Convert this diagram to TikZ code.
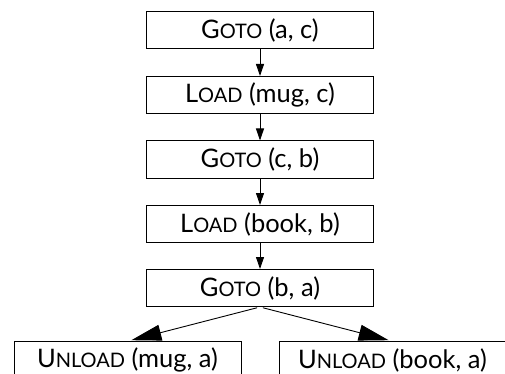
\documentclass[tikz,border=0pt]{standalone}
\usepackage{fontspec}
\setmainfont{Lato}
\usetikzlibrary{arrows.meta}
% first letter at full size, the rest as small capitals
\newcommand\opname[2]{#1{\fontsize{20}{22}\selectfont #2}}
\begin{document}
\begin{tikzpicture}[x=1pt,y=-1pt,
  act/.style={draw, line width=1pt, minimum width=227pt, minimum height=37pt,
    inner sep=0pt, font=\fontsize{25.5}{27}\selectfont},
  seq/.style={-{Triangle[length=12pt,width=8pt]}, line width=0.9pt},
  fork/.style={-{Triangle[length=30pt,width=16pt]}, line width=0.9pt,
    shorten <=3pt, shorten >=4pt}]
\useasboundingbox (0,0) rectangle (505,374);
\node[act] (g1) at (260,30.5)  {\opname{G}{OTO} (a, c)};
\node[act] (l1) at (260,95)    {\opname{L}{OAD} (mug, c)};
\node[act] (g2) at (260,159.5) {\opname{G}{OTO} (c, b)};
\node[act] (l2) at (260,224)   {\opname{L}{OAD} (book, b)};
\node[act] (g3) at (260,288)   {\opname{G}{OTO} (b, a)};
\node[act] (u1) at (127.5,360.2) {\opname{U}{NLOAD} (mug, a)};
\node[act] (u2) at (392.5,360.2) {\opname{U}{NLOAD} (book, a)};
\draw[seq] (g1) -- (l1);
\draw[seq] (l1) -- (g2);
\draw[seq] (g2) -- (l2);
\draw[seq] (l2) -- (g3);
\draw[fork] (g3.south) -- (u1.north);
\draw[fork] (g3.south) -- (u2.north);
\end{tikzpicture}
\end{document}
